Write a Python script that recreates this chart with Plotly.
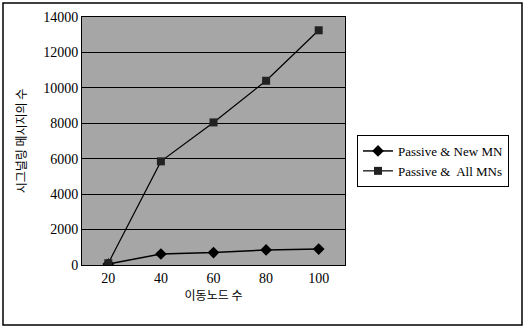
import plotly.graph_objects as go

categories = ["20", "40", "60", "80", "100"]
new_mn = [50, 620, 700, 850, 900]
all_mns = [100, 5850, 8050, 10400, 13250]
y_ticks = [0, 2000, 4000, 6000, 8000, 10000, 12000, 14000]
y_tick_text = [str(v) for v in y_ticks]
series_names = ["Passive & New MN", "Passive &  All MNs"]

L, R, T, B = 82, 180, 17, 67
W, H = 525, 332
pw, ph = W - L - R, H - T - B

fig = go.Figure()
fig.add_trace(go.Scatter(x=categories, y=new_mn, name=series_names[0], mode="lines+markers",
                         line=dict(color="black", width=1.5),
                         marker=dict(symbol="diamond", size=9, color="black")))
fig.add_trace(go.Scatter(x=categories, y=all_mns, name=series_names[1], mode="lines+markers",
                         line=dict(color="black", width=1.2),
                         marker=dict(symbol="square", size=8, color="#222222")))

serif = "Liberation Serif"
fig.update_layout(
    width=W, height=H,
    margin=dict(l=L, r=R, t=T, b=B, autoexpand=False),
    paper_bgcolor="white",
    plot_bgcolor="#a6a6a6",
    font=dict(family=serif, size=14, color="black"),
    legend=dict(x=(357 - L) / pw, y=(H - B - 135) / ph, xanchor="left", yanchor="top",
                bordercolor="black", borderwidth=1, bgcolor="white",
                font=dict(family=serif, size=13), itemwidth=30,
                tracegroupgap=0),
    showlegend=True,
)
fig.update_xaxes(type="category", showgrid=False, showline=True, linecolor="black", mirror=True,
                 ticks="", title=dict(text="이동노드 수", font=dict(family="Noto Sans CJK KR", size=12), standoff=6),
                 tickfont=dict(family=serif, size=14), range=[-0.5, 4.5])
fig.update_yaxes(range=[0, 14000], tickvals=y_ticks, ticktext=y_tick_text, showgrid=True,
                 gridcolor="black", gridwidth=1,
                 showline=True, linecolor="black", mirror=True, ticks="", zeroline=False,
                 title=dict(text="시그널링 메시지의 수", font=dict(family="Noto Sans CJK KR", size=12), standoff=14),
                 tickfont=dict(family=serif, size=14))

fig.add_shape(type="rect", xref="paper", yref="paper",
              x0=(3 - L) / pw, x1=(522 - L) / pw,
              y0=(H - B - 325) / ph, y1=(H - B - 3) / ph,
              line=dict(color="black", width=1.5), fillcolor="rgba(0,0,0,0)", layer="below")

fig.write_html("out.html")
